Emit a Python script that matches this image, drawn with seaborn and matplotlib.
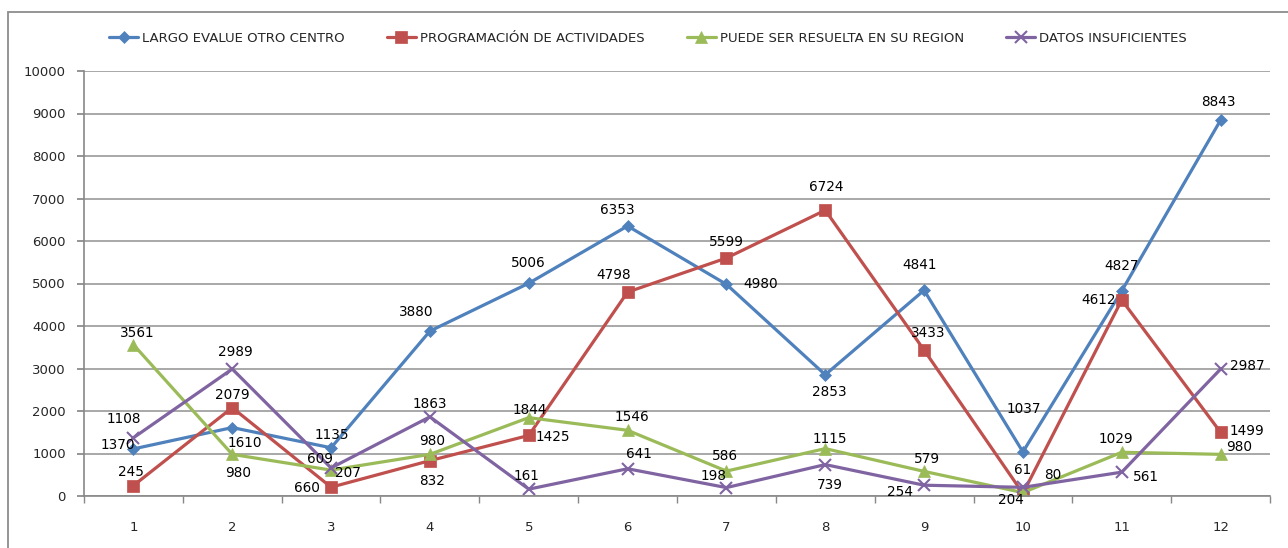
import matplotlib
matplotlib.use("Agg")
import matplotlib.pyplot as plt
import seaborn as sns
import pandas as pd
from matplotlib.patches import Rectangle
from matplotlib.ticker import MultipleLocator, FixedLocator

categories = list(range(1, 13))
series_names = ["LARGO EVALUE OTRO CENTRO", "PROGRAMACIÓN DE ACTIVIDADES",
                "PUEDE SER RESUELTA EN SU REGION", "DATOS INSUFICIENTES"]
largo = [1108, 1610, 1135, 3880, 5006, 6353, 4980, 2853, 4841, 1037, 4827, 8843]
programacion = [245, 2079, 207, 832, 1425, 4798, 5599, 6724, 3433, 61, 4612, 1499]
puede = [3561, 980, 609, 980, 1844, 1546, 586, 1115, 579, 80, 1029, 980]
datos = [1370, 2989, 660, 1863, 161, 641, 198, 739, 254, 204, 561, 2987]
y_ticks = list(range(0, 10001, 1000))

# styles
colors = ["#4F81BD", "#C0504D", "#9BBB59", "#8064A2"]
markers = ["D", "s", "^", "x"]
msizes = [6, 8, 8, 8]
# label offsets in pixels (dx, dy; dy positive = down)
offsets = [
    [(-10, -30), (13, 15), (1, -13), (-14, -19), (0, -20), (-10, -16), (34, 0), (4, 17), (-4, -25), (1, -43), (0, -25), (-2, -18)],
    [(-2, -14), (0, -13), (17, -14), (2, 20), (24, 2), (-14, -17), (0, -16), (1, -23), (4, -17), (0, -23), (-23, 0), (26, -1)],
    [(4, -12), (6, 19), (-11, -11), (2, -13), (1, -8), (4, -13), (-1, -15), (5, -10), (3, -12), (30, -18), (-6, -13), (19, -7)],
    [(-16, 7), (3, -17), (-24, 20), (0, -13), (-2, -13), (11, -15), (-13, -12), (5, 20), (-24, 7), (-12, 13), (24, 5), (27, -3)],
]

sns.set_theme(style="white")
plt.rcParams["font.family"] = ["DejaVu Sans"]

fig = plt.figure(figsize=(12.88, 5.48), dpi=100)
ax = fig.add_axes([84 / 1288, 1 - 496 / 548, (1270 - 84) / 1288, (496 - 71) / 548])

all_series = [largo, programacion, puede, datos]
for name, vals, c, m, ms in zip(series_names, all_series, colors, markers, msizes):
    df = pd.DataFrame({"cat": categories, "val": vals})
    sns.lineplot(data=df, x="cat", y="val", ax=ax, color=c, marker=m, markersize=ms,
                 linewidth=2.3, markeredgecolor=c, markeredgewidth=1.5 if m == "x" else 0.5,
                 label=name, legend=False)

for vals, offs in zip(all_series, offsets):
    for cx, v, (dx, dy) in zip(categories, vals, offs):
        ax.annotate(str(v), (cx, v), xytext=(dx, -dy), textcoords="offset pixels",
                    ha="center", va="center", fontsize=9.8, color="black")

ax.set_xlim(0.5, 12.5)
ax.set_ylim(0, 10000)
ax.yaxis.set_major_locator(FixedLocator(y_ticks))
ax.set_xticks(categories)
ax.set_xticklabels([str(c) for c in categories])
ax.xaxis.set_minor_locator(MultipleLocator(1, offset=0.5))
ax.tick_params(axis="x", which="major", length=0, pad=18, labelsize=9.5)
ax.tick_params(axis="x", which="minor", length=5, color="#888888", direction="out", bottom=True)
ax.tick_params(axis="y", which="major", length=5, color="#888888", direction="out", left=True, labelsize=9.5, pad=8)
ax.grid(axis="y", color="#9a9a9a", linewidth=1.2)
ax.grid(axis="x", visible=False)
ax.set_xlabel("")
ax.set_ylabel("")
for s in ["top", "right"]:
    ax.spines[s].set_visible(False)
for s in ["left", "bottom"]:
    ax.spines[s].set_color("#888888")
    ax.spines[s].set_linewidth(1.2)

handles, labels = ax.get_legend_handles_labels()
leg = fig.legend(handles, labels, loc="center", bbox_to_anchor=(0.503, 1 - 38 / 548), ncol=4,
                 frameon=False, columnspacing=3.2, handlelength=2.2, handletextpad=0.3,
                 prop={"family": ["Liberation Sans Narrow", "DejaVu Sans"], "size": 9.5})

fig.patches.append(Rectangle((8 / 1288, -0.1), 1.2, 1.1 - 12 / 548, transform=fig.transFigure,
                             fill=False, edgecolor="#8c8c8c", linewidth=1.3))

fig.savefig("out.png", dpi=100, facecolor="white")
